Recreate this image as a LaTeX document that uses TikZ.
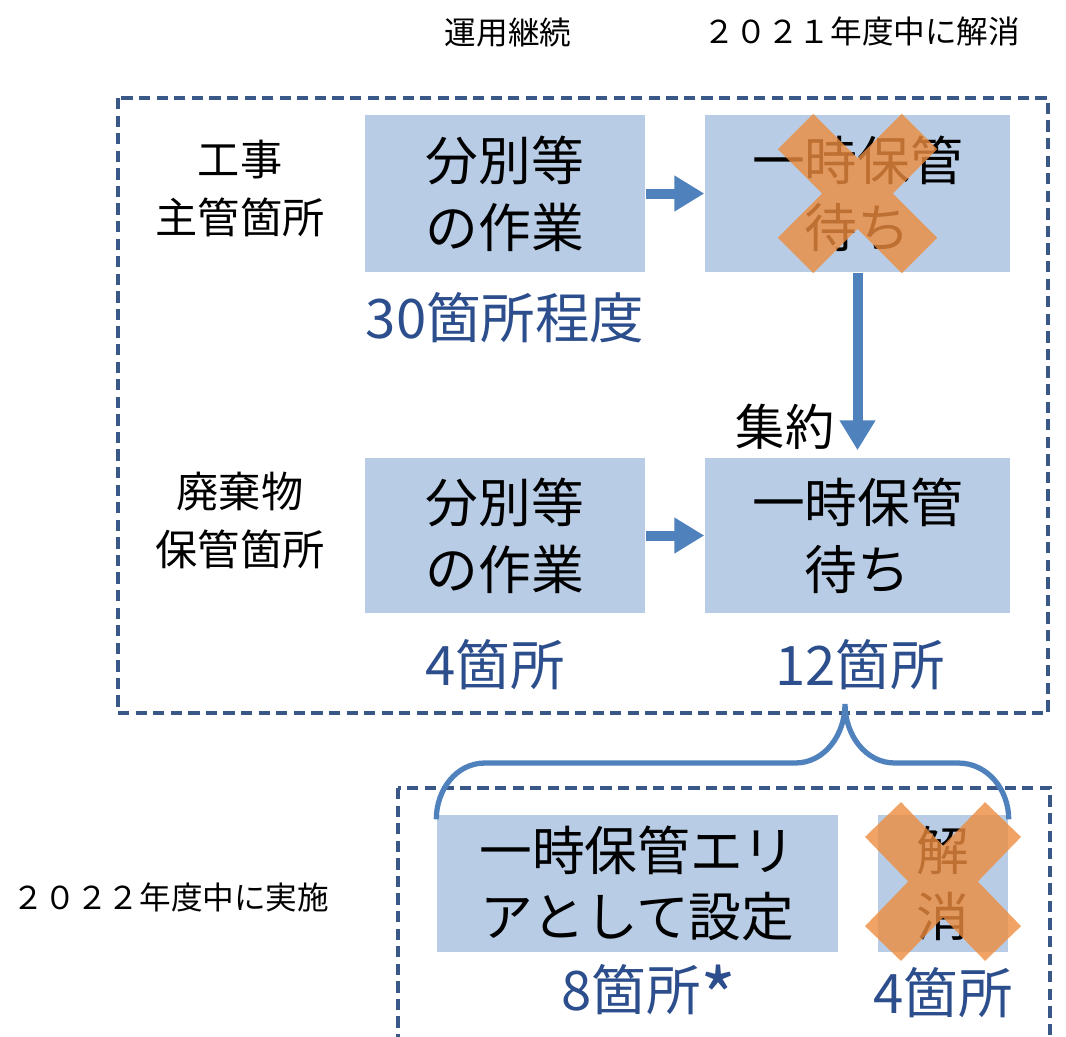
\documentclass[tikz,border=0pt]{standalone}
\usepackage{fontspec}
\setmainfont{Noto Sans CJK JP}
\usepackage{tikz}
\usetikzlibrary{arrows.meta, positioning, calc}
\definecolor{boxfill}{RGB}{184, 205, 229}
\definecolor{framecol}{RGB}{58, 88, 135}
\definecolor{arrowcol}{RGB}{79, 129, 189}
\definecolor{tallycol}{RGB}{44, 78, 140}
\definecolor{crosscol}{RGB}{237, 140, 62}

\begin{document}
\begin{tikzpicture}[
    box/.style={fill=boxfill, inner sep=0pt, align=center,
                minimum width=2.8cm, minimum height=1.57cm,
                font=\fontsize{15}{19}\selectfont},
    frame/.style={draw=framecol, line width=1.1pt, dash pattern=on 3.2pt off 1.8pt},
    arrow/.style={-{Triangle[length=0.3cm, width=0.34cm]}, line width=0.1cm, draw=arrowcol},
    brace/.style={draw=arrowcol, line width=1.5pt},
    xmark/.style={draw=crosscol, line width=0.5cm, draw opacity=0.8},
    tally/.style={font=\fontsize{15.5}{19}\selectfont, text=tallycol},
    side/.style={align=center, font=\fontsize{12}{16.5}\selectfont},
    note/.style={font=\fontsize{9}{11}\selectfont},
]
  \useasboundingbox (0,0) rectangle (10.66,-10.36);
  \clip (0,0) rectangle (10.66,-10.36);

  \node[note] (keep) at (5.08,-0.33) {運用継続};
  \node[note] (gone) at (8.62,-0.31) {２０２１年度中に解消};
  \node[note] (plan) at (1.71,-8.97) {２０２２年度中に実施};

  \draw[frame] (1.18,-0.98) rectangle (10.48,-7.13);
  \draw[frame] (3.98,-7.88) rectangle (10.50,-10.60);

  \node[side] (site1) at (2.40,-1.88) {工事\\主管箇所};
  \node[side] (site2) at (2.40,-5.20) {廃棄物\\保管箇所};

  \node[box] (sort1) at (5.05,-1.935) {分別等\\の作業};
  \node[box, minimum width=3.05cm] (wait1) at (8.575,-1.935) {一時保管\\待ち};
  \node[box, minimum height=1.55cm] (sort2) at (5.05,-5.355) {分別等\\の作業};
  \node[box, minimum width=3.05cm, minimum height=1.55cm] (wait2) at (8.575,-5.355) {一時保管\\待ち};
  \node[box, minimum width=4.01cm, minimum height=1.37cm] (area) at (6.375,-8.835) {一時保管エリ\\アとして設定};
  \node[box, minimum width=1.30cm, minimum height=1.37cm] (lift) at (9.43,-8.835) {解\\消};

  \draw[arrow] (sort1) -- (wait1);
  \draw[arrow] (sort2) -- (wait2);
  \draw[arrow, shorten >=2pt] (wait1) -- (wait2);
  \node[font=\fontsize{14}{16}\selectfont] (merge) at (7.85,-4.27) {集約};

  \node[tally] (n30) at (5.05,-3.18) {30箇所程度};
  \node[tally] (n4)  at (4.95,-6.65) {4箇所};
  \node[tally] (n12) at (8.60,-6.65) {12箇所};
  \node[tally] (n8)  at (6.49,-9.90) {8箇所\smash{\raisebox{-0.16cm}{\fontsize{22}{19}\selectfont *}}};
  \node[tally] (n4b) at (9.43,-9.93) {4箇所};

  \coordinate (tip) at (8.45,-7.04);
  \draw[brace] ([yshift=-0.05cm]area.north west) to[out=90, in=180] (4.85,-7.63)
    -- (7.95,-7.63) to[out=0, in=-90] (tip)
    to[out=-90, in=180] (8.95,-7.63) -- (9.58,-7.63)
    to[out=0, in=90] ([yshift=-0.05cm]lift.north east);

  \draw[xmark] ([shift={(-0.62,0.62)}]wait1.center) -- ([shift={(0.62,-0.62)}]wait1.center)
    ([shift={(0.62,0.62)}]wait1.center) -- ([shift={(-0.62,-0.62)}]wait1.center);
  \draw[xmark] ([shift={(-0.60,0.64)}]lift.center) -- ([shift={(0.60,-0.60)}]lift.center)
    ([shift={(0.60,0.64)}]lift.center) -- ([shift={(-0.60,-0.60)}]lift.center);
\end{tikzpicture}
\end{document}
